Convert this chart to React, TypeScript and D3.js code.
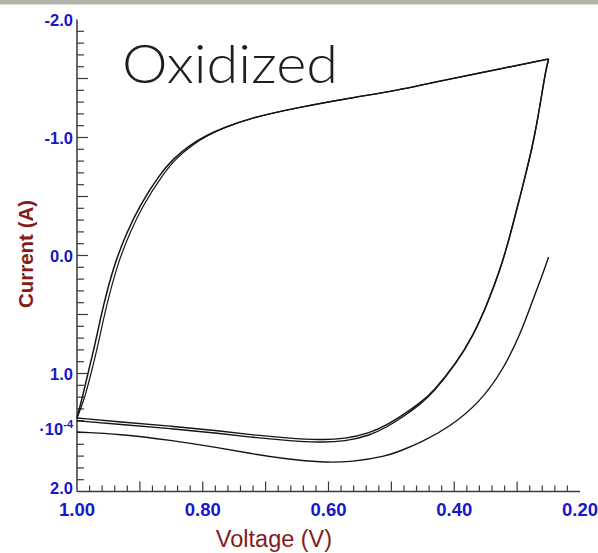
import React from "react";
import * as d3 from "d3";

// Cyclic voltammogram of the oxidized film (current in units of 1e-4 A)
const forwardVoltage = [1.0, 0.9316, 0.8521, 0.7722, 0.7201, 0.666, 0.6135, 0.5738, 0.534, 0.507, 0.4815, 0.4545, 0.4338, 0.3956, 0.3702, 0.3479, 0.3272, 0.3145, 0.305, 0.2954, 0.2859, 0.2763, 0.2684, 0.2604, 0.2549, 0.25];
const forwardCurrent1 = [1.377, 1.411, 1.445, 1.487, 1.521, 1.547, 1.564, 1.555, 1.504, 1.436, 1.352, 1.25, 1.157, 0.903, 0.682, 0.419, 0.123, -0.106, -0.301, -0.496, -0.699, -0.911, -1.123, -1.377, -1.555, -1.665];
const forwardCurrent2 = [1.4, 1.432, 1.466, 1.508, 1.542, 1.568, 1.585, 1.576, 1.524, 1.454, 1.368, 1.262, 1.165, 0.906, 0.682, 0.419, 0.123, -0.106, -0.301, -0.496, -0.699, -0.911, -1.123, -1.377, -1.555, -1.665];

const reverseVoltage1 = [0.25, 0.359, 0.4386, 0.4863, 0.5658, 0.6453, 0.7249, 0.7678, 0.7932, 0.8203, 0.8473, 0.868, 0.8998, 0.9205, 0.9396, 0.9586, 0.9714, 0.9825, 0.9905, 0.9968, 1.0];
const reverseVoltage2 = [0.25, 0.359, 0.4386, 0.4863, 0.5658, 0.6453, 0.7249, 0.7668, 0.7912, 0.8173, 0.8433, 0.863, 0.8948, 0.9155, 0.9346, 0.9536, 0.9664, 0.9775, 0.9865, 0.9948, 1.0];
const reverseCurrent = [-1.665, -1.547, -1.462, -1.403, -1.335, -1.258, -1.165, -1.081, -1.021, -0.936, -0.818, -0.691, -0.428, -0.199, 0.055, 0.428, 0.758, 0.996, 1.182, 1.309, 1.377];

const lastSweepVoltage = [1.0, 0.9316, 0.8521, 0.7722, 0.7201, 0.666, 0.6135, 0.561, 0.507, 0.4863, 0.4545, 0.4068, 0.359, 0.3225, 0.2954, 0.2763, 0.2604, 0.25];
const lastSweepCurrent = [1.496, 1.513, 1.564, 1.631, 1.682, 1.725, 1.754, 1.75, 1.699, 1.657, 1.589, 1.453, 1.242, 0.97, 0.674, 0.394, 0.174, 0.013];

const xTickLabels = [1.0, 0.8, 0.6, 0.4, 0.2];
const yTickLabels = [-2.0, -1.0, 0.0, 1.0, 2.0];
const unitLabelValue = 1.5;

const W = 598;
const H = 553;
const BLUE = "#1717c9";
const RED = "#861a1a";

export default function App() {
  const x = d3.scaleLinear().domain([1.0, 0.2]).range([77, 580]);
  const y = d3.scaleLinear().domain([-2.0, 2.0]).range([19.5, 491.5]);

  const line = d3
    .line<[number, number]>()
    .x((d) => x(d[0]))
    .y((d) => y(d[1]))
    .curve(d3.curveBasis);

  const zip = (v: number[], c: number[]) => v.map((vv, i) => [vv, c[i]] as [number, number]);
  const traces = [
    { pts: zip(forwardVoltage, forwardCurrent1), w: 1.4 },
    { pts: zip(forwardVoltage, forwardCurrent2), w: 1.4 },
    { pts: zip(reverseVoltage1, reverseCurrent), w: 1.5 },
    { pts: zip(reverseVoltage2, reverseCurrent), w: 1.2 },
    { pts: zip(lastSweepVoltage, lastSweepCurrent), w: 1.4 },
  ];

  const xTicks = d3.range(1, 41).map((i) => ({ v: 0.2 + i * 0.02, major: i % 5 === 0 })).filter((t) => t.v < 0.999);
  const yTicks = d3.range(-19, 20).map((i) => ({ v: i / 10, major: i % 5 === 0 }));

  const font = "'Liberation Sans', Arial, sans-serif";

  return (
    <svg width={W} height={H} style={{ position: "absolute", left: 0, top: 0, background: "#fff" }}>
      <rect x={0} y={0} width={W} height={H} fill="#fff" />
      <rect x={0} y={0} width={W} height={4.5} fill="#b3b3ab" />

      {/* axes */}
      <line x1={x(1.0)} x2={x(1.0)} y1={y(-2.0)} y2={y(2.0)} stroke="#3a3a3a" strokeWidth={1.5} />
      <line x1={x(1.0)} x2={x(0.2)} y1={y(2.0)} y2={y(2.0)} stroke="#3a3a3a" strokeWidth={1.5} />
      {xTicks.map((t, i) => (
        <line key={"xt" + i} x1={x(t.v)} x2={x(t.v)} y1={y(2.0)} y2={y(2.0) - (t.major ? 10 : 6)} stroke="#3a3a3a" strokeWidth={1.2} />
      ))}
      {yTicks.map((t, i) => (
        <line key={"yt" + i} x1={x(1.0)} x2={x(1.0) + (t.major ? 11 : 7)} y1={y(t.v)} y2={y(t.v)} stroke="#3a3a3a" strokeWidth={1.2} />
      ))}

      {/* tick labels */}
      {yTickLabels.map((v) => (
        <text key={"yl" + v} x={73} y={y(v) + (v === 2 ? 2.5 : 6)} textAnchor="end" fontFamily={font} fontWeight="bold" fontSize={16.5} fill={BLUE}>
          {v.toFixed(1)}
        </text>
      ))}
      <text x={73} y={y(unitLabelValue) + 2} textAnchor="end" fontFamily={font} fontWeight="bold" fontSize={16.5} fill={BLUE}>
        ·10
        <tspan dy={-7} fontSize={11}>-4</tspan>
      </text>
      {xTickLabels.map((v) => (
        <text key={"xl" + v} x={x(v)} y={515.5} textAnchor="middle" fontFamily={font} fontWeight="bold" fontSize={18.5} fill={BLUE}>
          {v.toFixed(2)}
        </text>
      ))}

      {/* axis titles */}
      <text transform={`translate(33,254) rotate(-90)`} textAnchor="middle" fontFamily={font} fontWeight="bold" fontSize={20.5} fill={RED}>
        Current (A)
      </text>
      <text x={274} y={547} textAnchor="middle" fontFamily={font} fontSize={23.5} fill={RED}>
        Voltage (V)
      </text>

      {/* traces */}
      {traces.map((t, i) => (
        <path key={"tr" + i} d={line(t.pts) || ""} fill="none" stroke="#141414" strokeWidth={t.w} strokeLinejoin="round" />
      ))}

      <text x={122} y={83} fontFamily="Lato, 'DejaVu Sans', sans-serif" fontWeight={300} fontSize={53} fill="#1e1e1e" textLength={216} lengthAdjust="spacingAndGlyphs">
        Oxidized
      </text>
    </svg>
  );
}
